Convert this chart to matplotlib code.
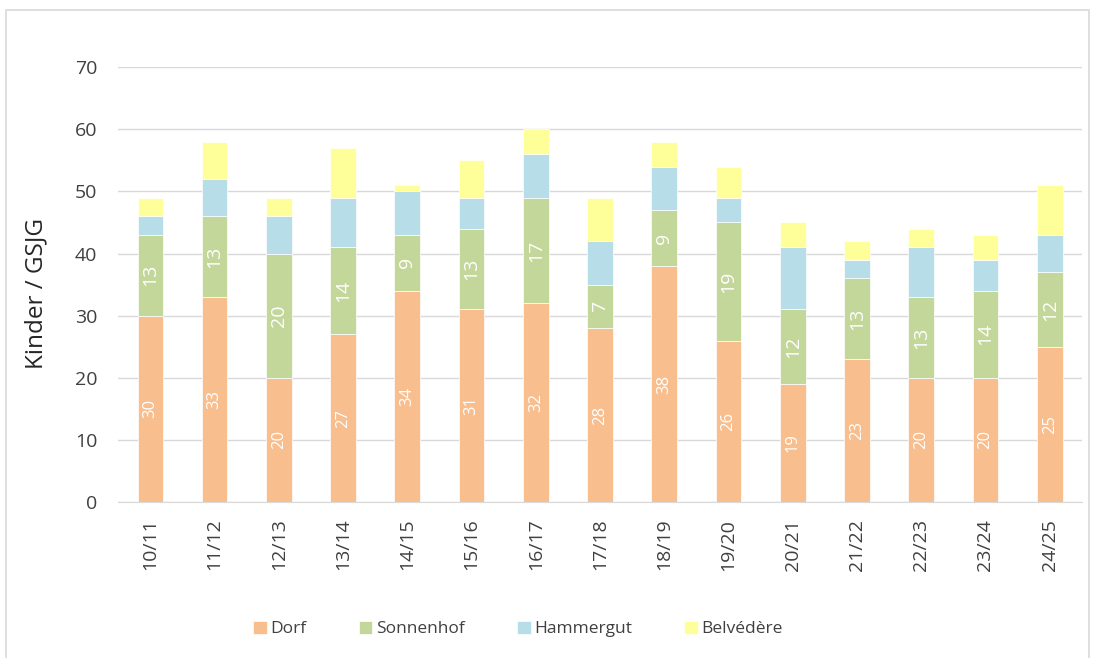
import numpy as np
import matplotlib
matplotlib.use("Agg")
from matplotlib import pyplot as plt
from matplotlib.patches import Rectangle

# data
years = ["10/11", "11/12", "12/13", "13/14", "14/15", "15/16", "16/17", "17/18",
         "18/19", "19/20", "20/21", "21/22", "22/23", "23/24", "24/25"]
dorf = [30, 33, 20, 27, 34, 31, 32, 28, 38, 26, 19, 23, 20, 20, 25]
sonnenhof = [13, 13, 20, 14, 9, 13, 17, 7, 9, 19, 12, 13, 13, 14, 12]
hammergut = [3, 6, 6, 8, 7, 5, 7, 7, 7, 4, 10, 3, 8, 5, 6]
belvedere = [3, 6, 3, 8, 1, 6, 4, 7, 4, 5, 4, 3, 3, 4, 8]

plt.rcParams['font.family'] = ['Open Sans', 'DejaVu Sans']

fig = plt.figure(figsize=(10.95, 6.58), dpi=100)
ax = fig.add_axes([0.108, 0.237, 0.88, 0.661])

x = np.arange(len(years))
w = 0.4
series = [("Dorf", dorf, "#F8BE8E"), ("Sonnenhof", sonnenhof, "#C4D79B"),
          ("Hammergut", hammergut, "#B7DEE8"), ("Belvédère", belvedere, "#FFFF99")]
label_size = {"Dorf": 12, "Sonnenhof": 14}

bottom = np.zeros(len(years))
for name, vals, col in series:
    vals = np.array(vals)
    ax.bar(x, vals, w, bottom=bottom, color=col, label=name,
           edgecolor="white", linewidth=0.5, zorder=3)
    if name in label_size:
        for xi, b, v in zip(x, bottom, vals):
            ax.text(xi, b + v / 2, str(v), rotation=90, ha="center", va="center",
                    color="white", fontsize=label_size[name], zorder=4)
    bottom = bottom + vals

ax.set_xlim(-0.5, len(years) - 0.5)
ax.set_ylim(0, 70)
ax.set_yticks(range(0, 71, 10))
ax.set_xticks(x)
ax.set_xticklabels(years, rotation=90)
ax.tick_params(axis="both", length=0, labelsize=14, labelcolor="#404040")
ax.tick_params(axis="y", pad=15)
ax.tick_params(axis="x", pad=12)
ax.grid(axis="y", color="#D9D9D9", linewidth=1, zorder=0)
for s in ["top", "right", "left"]:
    ax.spines[s].set_visible(False)
ax.spines["bottom"].set_color("#D9D9D9")
ax.set_ylabel("Kinder / GSJG", fontsize=17.5, color="#262626")
ax.yaxis.set_label_coords(-0.073, 0.48)

fig.legend(loc="center", bbox_to_anchor=(0.473, 0.044), ncol=4, frameon=False,
           fontsize=12.5, handlelength=0.8, handleheight=0.8, handletextpad=0.2,
           columnspacing=3.0, labelcolor="#404040")

# light frame round the chart area
fig.patches.append(Rectangle((6 / 1095, -0.01), 1083 / 1095, 0.01 + 648 / 658,
                             transform=fig.transFigure, fill=False,
                             edgecolor="#D9D9D9", linewidth=1.2))

fig.savefig("out.png", dpi=100)
